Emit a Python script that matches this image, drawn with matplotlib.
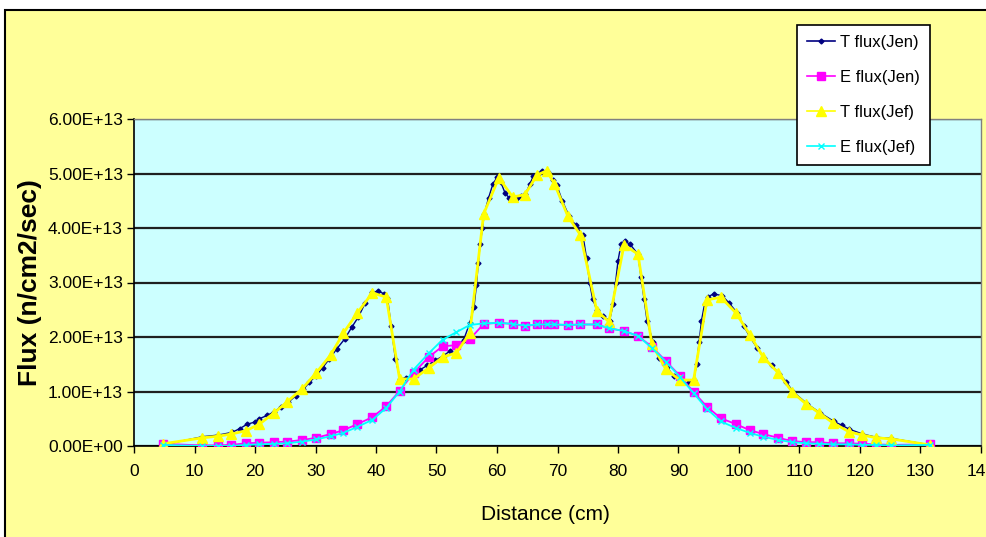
import matplotlib.pyplot as plt
from matplotlib.patches import Rectangle

plt.rcParams['font.family'] = ['Liberation Sans', 'DejaVu Sans']

# T flux (Jen) - fine mesh
t_jen_x = [4.8, 11.3, 13.9, 16.2, 17.5, 18.7, 20.0, 20.7, 22.0, 23.2, 24.3, 25.5, 26.7, 28.0,
           29.0, 30.1, 31.2, 32.3, 33.5, 34.8, 36.0, 37.1, 38.2, 39.4, 40.4, 41.4, 41.9,
           42.5, 43.2, 44.0, 45.0, 46.2, 47.3, 48.5, 49.8, 51.2, 52.3, 53.3, 54.5, 55.5,
           56.2, 56.6, 56.9, 57.2, 57.6, 57.9, 58.6, 59.3, 60.0, 60.6, 61.3, 62.0, 62.6,
           63.3, 64.0, 64.7, 65.4, 66.0, 66.7, 67.5, 68.4, 69.2, 69.9, 70.8, 71.9, 73.0,
           74.2, 74.8, 75.3, 75.8, 76.5, 77.5, 78.6, 79.2, 79.6, 80.0, 80.5, 81.1, 82.0,
           83.3, 83.8, 84.3, 84.8, 85.8, 86.8, 88.1, 89.2, 90.4, 91.5, 92.5, 93.0, 93.4,
           93.8, 94.3, 94.9, 95.8, 97.2, 98.4, 99.7, 100.8, 101.8, 103.0, 104.1, 105.4,
           106.6, 107.8, 108.9, 111.3, 113.4, 115.7, 117.0, 118.2, 120.4, 122.7, 125.2, 131.5]
t_jen = [0.02, 0.17, 0.20, 0.25, 0.32, 0.40, 0.44, 0.50, 0.56, 0.63, 0.72, 0.80, 0.92, 1.04,
         1.17, 1.29, 1.44, 1.60, 1.78, 1.96, 2.18, 2.37, 2.62, 2.82, 2.84, 2.79, 2.72,
         2.20, 1.60, 1.23, 1.25, 1.30, 1.40, 1.48, 1.57, 1.66, 1.75, 1.80, 1.95, 2.26,
         2.55, 2.95, 3.35, 3.70, 4.00, 4.26, 4.55, 4.80, 4.93, 4.85, 4.65, 4.55, 4.53,
         4.55, 4.58, 4.62, 4.80, 4.95, 5.00, 5.05, 5.02, 4.88, 4.78, 4.50, 4.22, 4.05,
         3.87, 3.45, 3.00, 2.70, 2.50, 2.38, 2.30, 2.60, 3.00, 3.40, 3.70, 3.76, 3.70,
         3.52, 3.10, 2.70, 2.30, 1.90, 1.62, 1.45, 1.28, 1.20, 1.15, 1.21, 1.50, 1.90,
         2.30, 2.60, 2.74, 2.79, 2.76, 2.62, 2.44, 2.20, 2.00, 1.80, 1.62, 1.48,
         1.33, 1.18, 1.00, 0.77, 0.61, 0.45, 0.38, 0.31, 0.22, 0.16, 0.14, 0.02]

# E flux (Jen), T flux (Jef), E flux (Jef) - coarse mesh
jef_x = [4.8, 11.3, 13.9, 16.1, 18.5, 20.7, 23.2, 25.3, 27.8, 30.1, 32.5, 34.6, 36.9, 39.4,
         41.7, 43.9, 46.2, 48.7, 51.0, 53.3, 55.5, 57.8, 60.3, 62.6, 64.6, 66.6, 68.2,
         69.5, 71.7, 73.8, 76.5, 78.5, 81.0, 83.3, 85.6, 87.9, 90.2, 92.5, 94.7, 97.0,
         99.5, 101.8, 104.0, 106.5, 108.8, 111.1, 113.2, 115.6, 118.2, 120.4, 122.7, 125.2, 131.5]
e_jen = [0.04, 0.01, 0.01, 0.02, 0.05, 0.06, 0.07, 0.08, 0.11, 0.15, 0.22, 0.29, 0.40, 0.53,
         0.73, 1.01, 1.34, 1.63, 1.83, 1.85, 1.96, 2.24, 2.26, 2.24, 2.20, 2.23, 2.23,
         2.23, 2.22, 2.23, 2.23, 2.16, 2.11, 2.02, 1.82, 1.56, 1.29, 0.99, 0.72, 0.51,
         0.40, 0.29, 0.22, 0.15, 0.09, 0.07, 0.07, 0.05, 0.05, 0.04, 0.03, 0.02, 0.03]
t_jef = [0.04, 0.15, 0.18, 0.22, 0.28, 0.40, 0.61, 0.81, 1.05, 1.34, 1.67, 2.07, 2.44, 2.81,
         2.73, 1.23, 1.23, 1.43, 1.63, 1.71, 2.07, 4.26, 4.92, 4.57, 4.61, 4.97, 5.05,
         4.81, 4.22, 3.87, 2.48, 2.28, 3.69, 3.52, 1.87, 1.41, 1.21, 1.21, 2.68, 2.73,
         2.44, 2.04, 1.63, 1.34, 0.99, 0.77, 0.61, 0.42, 0.26, 0.20, 0.15, 0.13, 0.02]
e_jef = [0.02, 0.00, 0.00, 0.00, 0.02, 0.03, 0.04, 0.05, 0.08, 0.12, 0.18, 0.24, 0.35, 0.48,
         0.70, 1.00, 1.40, 1.70, 1.95, 2.09, 2.22, 2.25, 2.26, 2.24, 2.21, 2.23, 2.23,
         2.23, 2.22, 2.23, 2.23, 2.16, 2.11, 2.02, 1.80, 1.55, 1.27, 0.97, 0.68, 0.45,
         0.33, 0.24, 0.17, 0.11, 0.07, 0.05, 0.04, 0.03, 0.03, 0.02, 0.02, 0.01, 0.02]

scale = 1e13
yticks = [0, 1, 2, 3, 4, 5, 6]
ytick_labels = ['0.00E+00', '1.00E+13', '2.00E+13', '3.00E+13', '4.00E+13', '5.00E+13', '6.00E+13']
xticks = list(range(0, 141, 10))

W, H = 987, 537
fig = plt.figure(figsize=(W / 100, H / 100), dpi=100)
fig.patch.set_facecolor('white')
# chart area (extends past right/bottom edge)
fig.patches.append(Rectangle((5 / W, -0.1), 1.2, 1 - 10 / H + 0.1, transform=fig.transFigure,
                             facecolor='#FFFF99', edgecolor='black', linewidth=1.5, zorder=-5))

ax = fig.add_axes([134 / W, 1 - 446 / H, 847 / W, 327 / H])
ax.set_facecolor('#CCFFFF')

ax.plot(t_jen_x, [v * scale for v in t_jen], color='#000080', marker='D', markersize=2.5,
        linewidth=1.0, label='T flux(Jen)', zorder=3)
ax.plot(jef_x, [v * scale for v in e_jen], color='#FF00FF', marker='s', markersize=6,
        linewidth=1.3, label='E flux(Jen)', zorder=4)
ax.plot(jef_x, [v * scale for v in t_jef], color='#FFFF00', marker='^', markersize=7,
        linewidth=2.0, label='T flux(Jef)', zorder=5)
ax.plot(jef_x, [v * scale for v in e_jef], color='#00FFFF', marker='x', markersize=5,
        markeredgewidth=1.0, linewidth=1.3, label='E flux(Jef)', zorder=6)

ax.set_xlim(0, 140)
ax.set_ylim(0, 6 * scale)
ax.set_xticks(xticks)
ax.set_xticklabels([str(t) for t in xticks], fontsize=12.5)
ax.set_yticks([t * scale for t in yticks])
ax.set_yticklabels(ytick_labels, fontsize=12.5)
ax.tick_params(direction='out', length=5, width=1, color='black', pad=3)
ax.tick_params(axis='x', pad=8)
ax.yaxis.grid(True, color='#202020', linewidth=1.6)
ax.set_axisbelow(True)
for s in ['top', 'right']:
    ax.spines[s].set_color('#808080')
    ax.spines[s].set_linewidth(1)
for s in ['left', 'bottom']:
    ax.spines[s].set_color('black')
    ax.spines[s].set_linewidth(1.2)

fig.text(30 / W, 1 - 283 / H, 'Flux (n/cm2/sec)', rotation=90, fontsize=19, fontweight='bold',
         ha='center', va='center')
fig.text(545 / W, 1 - 515 / H, 'Distance (cm)', fontsize=15, ha='center', va='center')

leg = ax.legend(loc='upper left', bbox_to_anchor=(797 / W, 1 - 25 / H), bbox_transform=fig.transFigure,
                fontsize=12, frameon=True, fancybox=False, edgecolor='black', framealpha=1,
                borderaxespad=0, labelspacing=1.2, handlelength=1.7, handletextpad=0.3,
                borderpad=0.6)
leg.get_frame().set_linewidth(1.2)
leg.set_zorder(10)
for h in leg.legend_handles:
    h.set_linewidth(1.2)

fig.savefig('out.png', dpi=100)
